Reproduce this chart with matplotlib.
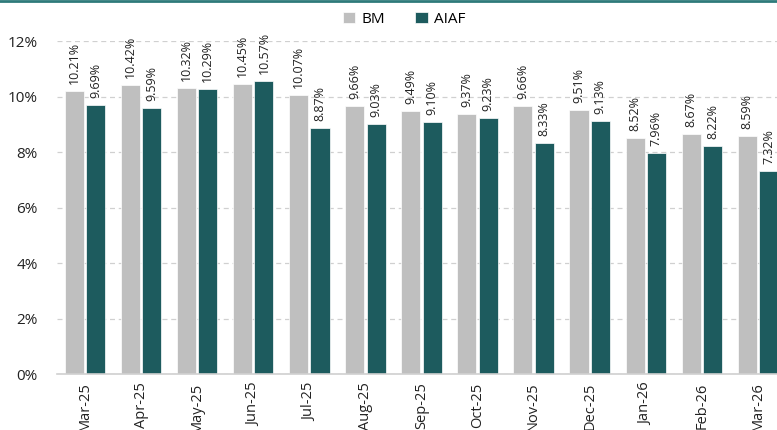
import numpy as np
import matplotlib.pyplot as plt

months = ["Mar-25", "Apr-25", "May-25", "Jun-25", "Jul-25", "Aug-25", "Sep-25",
          "Oct-25", "Nov-25", "Dec-25", "Jan-26", "Feb-26", "Mar-26"]
bm = [10.21, 10.42, 10.32, 10.45, 10.07, 9.66, 9.49, 9.37, 9.66, 9.51, 8.52, 8.67, 8.59]
aiaf = [9.69, 9.59, 10.29, 10.57, 8.87, 9.03, 9.10, 9.23, 8.33, 9.13, 7.96, 8.22, 7.32]

c_bm = "#BFBFBF"
c_aiaf = "#1D5B5E"

plt.rcParams["font.family"] = ["Open Sans", "DejaVu Sans"]

fig = plt.figure(figsize=(7.77, 4.30), dpi=100)
ax = fig.add_axes([0.0734, 0.130, 0.938, 0.774])

x = np.arange(len(months))
w = 0.34
off = 0.19
b1 = ax.bar(x - off, bm, w, color=c_bm, edgecolor="white", linewidth=0.5, label="BM")
b2 = ax.bar(x + off, aiaf, w, color=c_aiaf, edgecolor="white", linewidth=0.5, label="AIAF")

# data labels, rotated like the original
for bars, vals in ((b1, bm), (b2, aiaf)):
    for r, v in zip(bars, vals):
        ax.annotate(f"{v:.2f}%", (r.get_x() + r.get_width() / 2, v),
                    xytext=(0, 5), textcoords="offset points",
                    rotation=90, ha="center", va="bottom", fontsize=9, color="#222222")

ax.set_xlim(-0.5, len(months) - 0.5)
ax.set_ylim(0, 12)
ax.set_yticks(range(0, 13, 2))
ax.set_yticklabels([f"{t}%" for t in range(0, 13, 2)], fontsize=11, color="#222222")
ax.set_xticks(x)
ax.set_xticklabels(months, rotation=90, fontsize=10.5, color="#222222")
ax.tick_params(axis="both", length=0)
ax.tick_params(axis="y", pad=14)
ax.tick_params(axis="x", pad=6)

ax.yaxis.grid(True, linestyle=(0, (4, 3)), color="#D0D0D0", linewidth=0.9)
ax.set_axisbelow(True)
for s in ("left", "right", "top"):
    ax.spines[s].set_visible(False)
ax.spines["bottom"].set_color("#D0D0D0")
ax.spines["bottom"].set_linewidth(1.2)

fig.legend(handles=[b1, b2], loc="center", bbox_to_anchor=(0.52, 0.955), ncol=2,
           frameon=False, fontsize=11, handlelength=0.8, handleheight=0.8,
           handletextpad=0.4, columnspacing=2.0)

# teal line across the very top
fig.add_artist(plt.Line2D([0, 1], [0.998, 0.998], transform=fig.transFigure,
                          color="#2E7A7A", linewidth=2))

fig.savefig("out.png", dpi=100)
